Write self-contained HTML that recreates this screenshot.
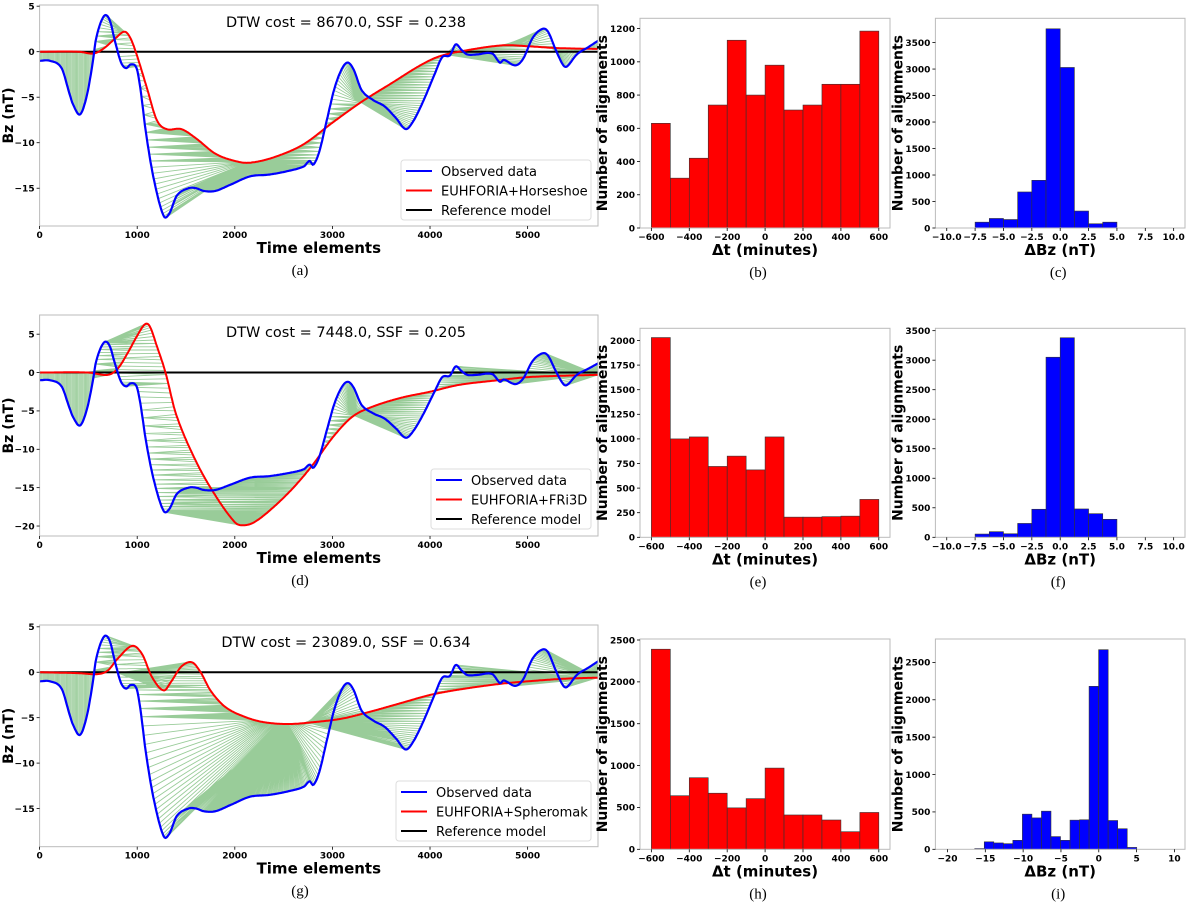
<!DOCTYPE html>
<html><head><meta charset="utf-8"><style>
html,body{margin:0;padding:0;background:#fff}
svg{display:block}
text{font-family:"DejaVu Sans","Liberation Sans",sans-serif}
.tk{font-size:9px;font-weight:bold;fill:#000}
.al{font-size:14px;font-weight:bold;fill:#000}
.sub{font-family:"Liberation Serif",serif;font-size:15px;fill:#000}
.lg{font-size:13px;fill:#000}
.dtw{font-size:14.5px;fill:#000}
</style></head><body>
<svg id="fig" width="1200" height="911" viewBox="0 0 1200 911" xmlns="http://www.w3.org/2000/svg"></svg>
<script>
// ---------- data ----------
const obsT = [0,106,225,303,343,414,480,540,580,658,717,776,835,887,934,993,1032,1091,1170,1269,1328,1407,1525,1604,1682,1800,1958,2155,2352,2549,2707,2766,2805,2865,2943,3022,3101,3160,3219,3298,3416,3534,3652,3751,3830,3928,4046,4125,4204,4263,4322,4381,4480,4637,4716,4756,4874,4953,5051,5150,5209,5288,5366,5406,5504,5622,5721];
const obsBz = [-1.0,-1.0,-1.8,-4.5,-5.8,-6.9,-5.0,-1.5,1.5,3.9,3.5,1.0,-1.2,-1.8,-1.4,-1.8,-4,-9,-14,-18,-17.8,-15.8,-15.0,-15.0,-15.3,-15.3,-14.6,-13.7,-13.5,-13.1,-12.6,-12.0,-12.4,-11,-7.5,-4,-1.8,-1.2,-2.0,-4.2,-5.3,-6.0,-7.3,-8.5,-7.6,-5.5,-2.5,-0.6,-0.4,0.8,0.2,-0.3,-0.3,-0.2,-1.2,-0.9,-1.5,-0.8,1.5,2.5,2.2,0.2,-1.5,-1.6,-0.3,0.5,1.2];
const hsT = [0,400,550,650,780,870,930,1000,1100,1200,1300,1450,1600,1800,2000,2150,2400,2700,3000,3300,3600,3900,4100,4400,4750,5000,5300,5721];
const hsBz = [0,0,-0.2,0.3,1.5,2.2,1.5,-0.5,-4,-7.5,-8.5,-8.5,-9.5,-11.2,-12.0,-12.2,-11.6,-10.2,-7.8,-5.5,-3.5,-1.5,-0.5,0.2,0.7,0.6,0.4,0.3];
const frT = [0,500,700,800,900,1000,1080,1130,1200,1290,1400,1600,1800,2000,2080,2200,2400,2600,2800,3000,3200,3400,3700,4000,4300,4700,5000,5400,5721];
const frBz = [0,0,-0.3,0.5,2.5,4.8,6.3,6.0,3.5,0,-5.5,-11.5,-16,-19.5,-19.9,-19.5,-17.5,-15,-12,-8.5,-5.8,-4.5,-3.3,-2.5,-1.6,-1.0,-0.6,-0.4,-0.3];
const spT = [0,400,600,700,800,950,1050,1150,1270,1350,1450,1560,1650,1750,1900,2100,2300,2550,2800,3100,3400,3700,4000,4300,4700,5000,5400,5721];
const spBz = [0,-0.1,-0.2,0.2,1.5,2.9,2.0,-0.5,-2.0,-1.0,0.6,1.1,0,-2.0,-3.8,-4.9,-5.5,-5.7,-5.5,-5.1,-4.3,-3.4,-2.5,-1.9,-1.3,-1.0,-0.7,-0.6];
const dtwCosts = ["8670.0","7448.0","23089.0"];
const ssfVals = ["0.238","0.205","0.634"];
const modelNames = ["EUHFORIA+Horseshoe","EUHFORIA+FRi3D","EUHFORIA+Spheromak"];

const dtCounts_b = [630,300,420,740,1130,800,980,710,740,865,865,1185];
const dtCounts_e = [2030,1000,1020,720,825,685,1020,205,205,210,215,385];
const dtCounts_h = [2390,640,855,670,495,605,970,410,410,350,210,440];
const dtBinStart = -600, dtBinWidth = 100;
const bzCounts_c = [110,180,160,680,900,3760,3030,320,80,110];
const bzCounts_f = [55,95,60,235,475,3050,3380,480,400,305];
const bzBinStart_cf = -7.5, bzBinWidth_cf = 1.25;
const bzCounts_i = [10,100,85,75,120,470,420,510,170,120,390,395,2180,2670,385,275,25];
const bzBinStart_i = -16.4, bzBinWidth_i = 1.26;
const dtTicks = [-600,-400,-200,0,200,400,600];
const bzTicks_cf = [-10,-7.5,-5,-2.5,0,2.5,5,7.5,10];
const bzTicks_i = [-20,-15,-10,-5,0,5,10];
const timeTicks = [0,1000,2000,3000,4000,5000];

// ---------- helpers ----------
const NS="http://www.w3.org/2000/svg";
const svg=document.getElementById('fig');
function mk(tag,attrs,parent){const e=document.createElementNS(NS,tag);for(const k in attrs)e.setAttribute(k,attrs[k]);(parent||svg).appendChild(e);return e;}
function fmt(v,dec){let s=dec?v.toFixed(1):String(v);return s.replace('-','\u2212');}
function interp(T,V,t){
  let i=0;while(i<T.length-2&&t>T[i+1])i++;
  const t0=T[i],t1=T[i+1],v0=V[i],v1=V[i+1],h=t1-t0;
  const s=(t-t0)/h;
  const m0=i>0?(V[i+1]-V[i-1])/(T[i+1]-T[i-1]):(v1-v0)/h;
  const m1=i<T.length-2?(V[i+2]-V[i])/(T[i+2]-T[i]):(v1-v0)/h;
  const h00=2*s*s*s-3*s*s+1,h10=s*s*s-2*s*s+s,h01=-2*s*s*s+3*s*s,h11=s*s*s-s*s;
  return h00*v0+h10*h*m0+h01*v1+h11*h*m1;
}
function sample(T,V,n){const out=[];for(let k=0;k<n;k++){const t=T[0]+(T[T.length-1]-T[0])*k/(n-1);out.push([t,interp(T,V,t)]);}return out;}
function dtw(a,b){
  const n=a.length,m=b.length;const D=new Float64Array(n*m);
  for(let i=0;i<n;i++)for(let j=0;j<m;j++){
    const c=Math.abs(a[i][1]-b[j][1]);let best;
    if(i===0&&j===0)best=0;else if(i===0)best=D[j-1];else if(j===0)best=D[(i-1)*m];
    else best=Math.min(D[(i-1)*m+j],D[i*m+j-1],D[(i-1)*m+j-1]);
    D[i*m+j]=c+best;}
  const path=[];let i=n-1,j=m-1;path.push([i,j]);
  while(i>0||j>0){
    if(i===0)j--;else if(j===0)i--;
    else{const a1=D[(i-1)*m+j-1],a2=D[(i-1)*m+j],a3=D[i*m+j-1];
      if(a1<=a2&&a1<=a3){i--;j--;}else if(a2<=a3)i--;else j--;}
    path.push([i,j]);}
  return path;
}

function linePanel(cfg,modelT,modelBz,idx,label){
  const g=mk('g',{});
  
  
  const X=t=>cfg.x0+(t-0)/(5721-0)*(cfg.x1-cfg.x0);
  const Y=v=>cfg.y0+(cfg.ymax-v)/(cfg.ymax-cfg.ymin)*(cfg.y1-cfg.y0);
  const clip='clip'+label;
  const cp=mk('clipPath',{id:clip},g);mk('rect',{x:cfg.x0,y:cfg.y0,width:cfg.x1-cfg.x0,height:cfg.y1-cfg.y0},cp);
  const obs=sample(obsT,obsBz,500), mod=sample(modelT,modelBz,500);
  const path=dtw(obs,mod);
  const gg=mk('g',{'clip-path':'url(#'+clip+')'},g);
  
  
  let d='';
  for(const [i,j] of path){d+='M'+X(obs[i][0]).toFixed(1)+' '+Y(obs[i][1]).toFixed(1)+'L'+X(mod[j][0]).toFixed(1)+' '+Y(mod[j][1]).toFixed(1);}
  mk('path',{d:d,stroke:'#008000','stroke-opacity':0.4,'stroke-width':0.9,fill:'none'},gg);
  const zl=mk('line',{x1:cfg.x0,x2:cfg.x1,y1:Y(0),y2:Y(0),stroke:'#000','stroke-width':2},gg);
  
  
  const dense=sample(modelT,modelBz,600).map(p=>X(p[0]).toFixed(1)+','+Y(p[1]).toFixed(1)).join(' ');
  const ml=mk('polyline',{points:dense,fill:'none',stroke:'#ff0000','stroke-width':2},gg);
  
  
  const od=sample(obsT,obsBz,600).map(p=>X(p[0]).toFixed(1)+','+Y(p[1]).toFixed(1)).join(' ');
  const ol=mk('polyline',{points:od,fill:'none',stroke:'#0000ff','stroke-width':2.2},gg);
  
  
  mk('rect',{x:cfg.x0,y:cfg.y0,width:cfg.x1-cfg.x0,height:cfg.y1-cfg.y0,fill:'none',stroke:'#bbb','stroke-width':1},g);
  for(const t of timeTicks){const x=X(t);mk('line',{x1:x,x2:x,y1:cfg.y1,y2:cfg.y1+3,stroke:'#000','stroke-width':0.8},g);
    const tx=mk('text',{x:x,y:cfg.y1+12,'text-anchor':'middle',class:'tk'},g);tx.textContent=fmt(t);
    }
  for(const v of cfg.yt){const y=Y(v);mk('line',{x1:cfg.x0-3,x2:cfg.x0,y1:y,y2:y,stroke:'#000','stroke-width':0.8},g);
    const tx=mk('text',{x:cfg.x0-5,y:y+3.3,'text-anchor':'end',class:'tk'},g);tx.textContent=fmt(v);
    }
  const xl=mk('text',{x:(cfg.x0+cfg.x1)/2,y:cfg.y1+27,'text-anchor':'middle',class:'al',style:'font-size:15px'},g);xl.textContent='Time elements';
  
  const yc=(cfg.y0+cfg.y1)/2;
  const yl=mk('text',{x:13,y:yc,'text-anchor':'middle',class:'al',transform:'rotate(-90 13 '+yc+')'},g);yl.textContent='Bz (nT)';
  
  const dt=mk('text',{x:346,y:cfg.y0+22,'text-anchor':'middle',class:'dtw'},g);dt.textContent='DTW cost = '+dtwCosts[idx]+', SSF = '+ssfVals[idx];
  
  const L=cfg.lg;
  const lgG=mk('g',{},g);
  
  mk('rect',{x:L[0],y:L[1],width:591-L[0],height:60,rx:3,fill:'#fff','fill-opacity':0.85,stroke:'#ddd'},lgG);
  const items=[['Observed data','#0000ff'],[modelNames[idx],'#ff0000'],['Reference model','#000']];
  items.forEach((it,k)=>{const y=L[1]+11+k*19.5;
    mk('line',{x1:L[0]+5,x2:L[0]+31,y1:y,y2:y,stroke:it[1],'stroke-width':2},lgG);
    const t=mk('text',{x:L[0]+40,y:y+5,class:'lg'},lgG);t.textContent=it[0];
    });
  const sl=mk('text',{x:300,y:cfg.y1+49,'text-anchor':'middle',class:'sub'});sl.textContent='('+label+')';
  
}

function histPanel(cfg,counts,start,width,xticks,dec,color,xtitle,label){
  const g=mk('g',{});
  
  
  const X=v=>cfg.x0+(v-cfg.xmin)/(cfg.xmax-cfg.xmin)*(cfg.x1-cfg.x0);
  const Y=v=>cfg.y1-v/cfg.ymax*(cfg.y1-cfg.y0);
  counts.forEach((c,k)=>{const a=X(start+k*width),b=X(start+(k+1)*width);
    const r=mk('rect',{x:a,y:Y(c),width:b-a,height:cfg.y1-Y(c),fill:color,stroke:'#333','stroke-width':0.6},g);
    });
  mk('rect',{x:cfg.x0,y:cfg.y0,width:cfg.x1-cfg.x0,height:cfg.y1-cfg.y0,fill:'none',stroke:'#bbb','stroke-width':1},g);
  for(const t of xticks){const x=X(t);mk('line',{x1:x,x2:x,y1:cfg.y1,y2:cfg.y1+3,stroke:'#000','stroke-width':0.8},g);
    const tx=mk('text',{x:x,y:cfg.y1+12,'text-anchor':'middle',class:'tk'},g);tx.textContent=fmt(t,dec);
    }
  for(let v=0;v<=cfg.ymax;v+=cfg.ystep){const y=Y(v);mk('line',{x1:cfg.x0-3,x2:cfg.x0,y1:y,y2:y,stroke:'#000','stroke-width':0.8},g);
    const tx=mk('text',{x:cfg.x0-5,y:y+3.3,'text-anchor':'end',class:'tk'},g);tx.textContent=fmt(v);
    }
  const xl=mk('text',{x:(cfg.x0+cfg.x1)/2,y:cfg.y1+27,'text-anchor':'middle',class:'al',style:'font-size:15px'},g);xl.textContent=xtitle;
  
  const yc=(cfg.y0+cfg.y1)/2, yx=cfg.x0-33;
  const yl=mk('text',{x:yx,y:yc,'text-anchor':'middle',class:'al',transform:'rotate(-90 '+yx+' '+yc+')'},g);yl.textContent='Number of alignments';
  
  const sl=mk('text',{x:(cfg.x0+cfg.x1)/2+(label==='b'||label==='e'||label==='h'?-7:-2),y:cfg.y1+49,'text-anchor':'middle',class:'sub'});sl.textContent='('+label+')';
  
}

// ---------- layout ----------
const LX0=39.6, LX1=598;
linePanel({x0:LX0,x1:LX1,y0:5,y1:226,ymin:-19.15,ymax:5.13,yt:[5,0,-5,-10,-15],lg:[401,160]},hsT,hsBz,0,'a');
linePanel({x0:LX0,x1:LX1,y0:315,y1:536,ymin:-21.3,ymax:7.5,yt:[5,0,-5,-10,-15,-20],lg:[431,469]},frT,frBz,1,'d');
linePanel({x0:LX0,x1:LX1,y0:625,y1:846.7,ymin:-19.2,ymax:5.2,yt:[5,0,-5,-10,-15],lg:[396,781]},spT,spBz,2,'g');

const HB={x0:640,x1:890,xmin:-660,xmax:659}, HC={x0:935.4,x1:1185};
histPanel(Object.assign({},HB,{y0:18.3,y1:228,ymax:1262,ystep:200}),dtCounts_b,dtBinStart,dtBinWidth,dtTicks,false,'#ff0000','\u0394t (minutes)','b');
histPanel(Object.assign({},HC,{xmin:-11,xmax:11,y0:18.3,y1:228,ymax:3958,ystep:500}),bzCounts_c,bzBinStart_cf,bzBinWidth_cf,bzTicks_cf,true,'#0000ff','\u0394Bz (nT)','c');
histPanel(Object.assign({},HB,{y0:328.3,y1:537.3,ymax:2124,ystep:250}),dtCounts_e,dtBinStart,dtBinWidth,dtTicks,false,'#ff0000','\u0394t (minutes)','e');
histPanel(Object.assign({},HC,{xmin:-11,xmax:11,y0:328.3,y1:537.3,ymax:3540,ystep:500}),bzCounts_f,bzBinStart_cf,bzBinWidth_cf,bzTicks_cf,true,'#0000ff','\u0394Bz (nT)','f');
histPanel(Object.assign({},HB,{y0:639,y1:849.3,ymax:2512,ystep:500}),dtCounts_h,dtBinStart,dtBinWidth,dtTicks,false,'#ff0000','\u0394t (minutes)','h');
histPanel(Object.assign({},HC,{xmin:-21.6,xmax:11.4,y0:639,y1:849.3,ymax:2813,ystep:500}),bzCounts_i,bzBinStart_i,bzBinWidth_i,bzTicks_i,false,'#0000ff','\u0394Bz (nT)','i');
</script>
</body></html>
